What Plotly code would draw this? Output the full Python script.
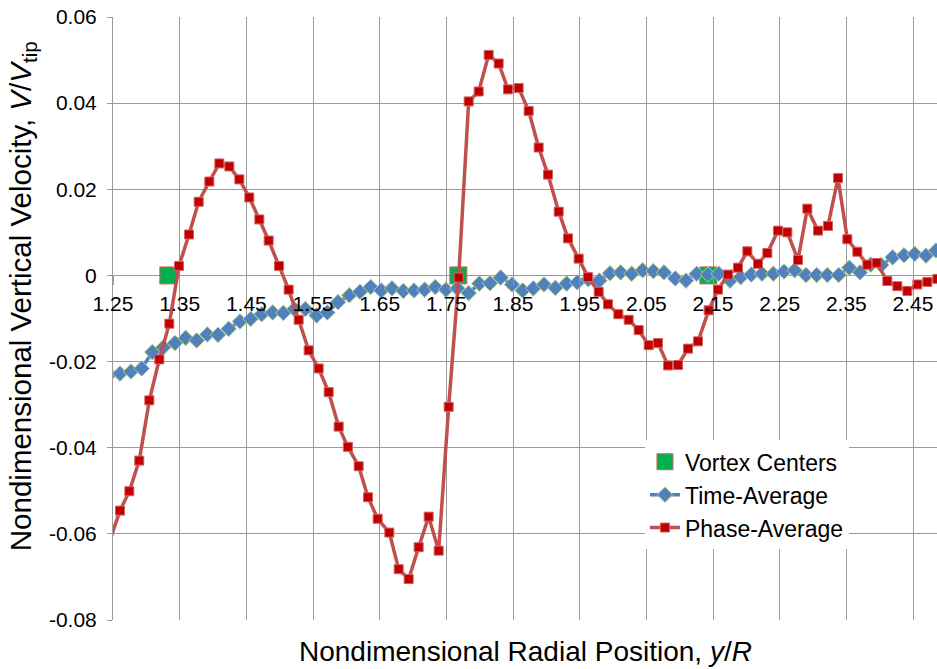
import plotly.graph_objects as go

# ---- data ----
phase_x = [1.240, 1.2605, 1.2745, 1.2894, 1.3045, 1.3195, 1.3345, 1.3490, 1.3640, 1.3785,
           1.3945, 1.4095, 1.4245, 1.4395, 1.4545, 1.4695, 1.4835, 1.4990, 1.5135, 1.5285,
           1.5435, 1.5585, 1.5735, 1.5885, 1.6023, 1.6185, 1.6325, 1.6470, 1.6645, 1.6785,
           1.6935, 1.7085, 1.7235, 1.7385, 1.7535, 1.7685, 1.7835, 1.7985, 1.8135, 1.8285,
           1.8425, 1.8585, 1.8735, 1.8885, 1.9025, 1.9185, 1.9325, 1.9485, 1.9625, 1.9785,
           1.9925, 2.0080, 2.0235, 2.0385, 2.0535, 2.0675, 2.0825, 2.0975, 2.1125, 2.1275,
           2.1435, 2.1575, 2.1725, 2.1875, 2.2015, 2.2175, 2.2315, 2.2475, 2.2615, 2.2775,
           2.2915, 2.3075, 2.3225, 2.3375, 2.3515, 2.3665, 2.3815, 2.3955, 2.4115, 2.4265,
           2.4415, 2.4565, 2.4715, 2.4865]
phase_y = [-0.0640, -0.0546, -0.0501, -0.0430, -0.0290, -0.0195, -0.0112, 0.0022, 0.0095, 0.0171,
           0.0218, 0.0260, 0.0253, 0.0223, 0.0181, 0.0130, 0.0081, 0.0022, -0.0033, -0.0103,
           -0.0174, -0.0216, -0.0271, -0.0351, -0.0398, -0.0443, -0.0515, -0.0565, -0.0597, -0.0682,
           -0.0705, -0.0631, -0.0560, -0.0639, -0.0305, -0.0005, 0.0404, 0.0427, 0.0512, 0.0492,
           0.0432, 0.0435, 0.0382, 0.0297, 0.0234, 0.0148, 0.0086, 0.0039, -0.0004, -0.0038,
           -0.0067, -0.0090, -0.0103, -0.0127, -0.0162, -0.0157, -0.0209, -0.0208, -0.0170, -0.0153,
           -0.0081, -0.0033, 0.0002, 0.0018, 0.0056, 0.0027, 0.0052, 0.0104, 0.0100, 0.0036,
           0.0155, 0.0104, 0.0115, 0.0226, 0.0084, 0.0055, 0.0025, 0.0029, -0.0013, -0.0025,
           -0.0036, -0.0021, -0.0015, -0.0008]

time_x = [1.2445, 1.2605, 1.2770, 1.2930, 1.3090, 1.3255, 1.3430, 1.3590, 1.3755, 1.3915,
          1.4075, 1.4235, 1.4405, 1.4565, 1.4730, 1.4895, 1.5055, 1.5220, 1.5385, 1.5555,
          1.5715, 1.5875, 1.6045, 1.6205, 1.6365, 1.6525, 1.6685, 1.6855, 1.7015, 1.7175,
          1.7335, 1.7495, 1.7665, 1.7835, 1.7995, 1.8155, 1.8315, 1.8485, 1.8645, 1.8805,
          1.8965, 1.9135, 1.9305, 1.9465, 1.9630, 1.9795, 1.9955, 2.0115, 2.0280, 2.0445,
          2.0605, 2.0765, 2.0935, 2.1095, 2.1255, 2.1425, 2.1585, 2.1755, 2.1915, 2.2075,
          2.2235, 2.2405, 2.2565, 2.2725, 2.2895, 2.3055, 2.3215, 2.3385, 2.3545, 2.3705,
          2.3865, 2.4025, 2.4195, 2.4365, 2.4525, 2.4695, 2.4845]
time_y = [-0.0230, -0.0228, -0.0223, -0.0216, -0.0178, -0.0167, -0.0157, -0.0145, -0.0151, -0.0137,
          -0.0138, -0.0124, -0.0107, -0.0101, -0.0090, -0.0086, -0.0087, -0.0078, -0.0078, -0.0093,
          -0.0086, -0.0062, -0.0046, -0.0038, -0.0027, -0.0035, -0.0030, -0.0036, -0.0035, -0.0033,
          -0.0027, -0.0033, -0.0030, -0.0041, -0.0019, -0.0018, -0.0005, -0.0021, -0.0035, -0.0030,
          -0.0021, -0.0029, -0.0019, -0.0016, -0.0009, -0.0012, 0.0005, 0.0007, 0.0004, 0.0012,
          0.0010, 0.0007, -0.0007, -0.0012, 0.0004, 0.0002, 0.0004, -0.0012, -0.0004, 0.0002,
          0.0004, 0.0004, 0.0009, 0.0012, 0.0001, 0.0001, 0.0001, 0.0001, 0.0018, 0.0007,
          0.0025, 0.0024, 0.0042, 0.0047, 0.0050, 0.0046, 0.0058]

vortex_x = [1.333, 1.768, 2.143]
vortex_y = [0.0, 0.0, 0.0]

x_tick_vals = [1.25, 1.35, 1.45, 1.55, 1.65, 1.75, 1.85, 1.95, 2.05, 2.15, 2.25, 2.35, 2.45]
x_tick_text = ["1.25", "1.35", "1.45", "1.55", "1.65", "1.75", "1.85", "1.95", "2.05", "2.15",
               "2.25", "2.35", "2.45"]
y_tick_vals = [-0.08, -0.06, -0.04, -0.02, 0.0, 0.02, 0.04, 0.06]
y_tick_text = ["-0.08", "-0.06", "-0.04", "-0.02", "0", "0.02", "0.04", "0.06"]

FONT = "Liberation Sans, Arial, sans-serif"
GRID = "#9a9a9a"

fig = go.Figure()
fig.add_trace(go.Scatter(
    x=vortex_x, y=vortex_y, mode="markers", name="Vortex Centers",
    marker=dict(symbol="square", size=17, color="#00B050", line=dict(color="#D0605C", width=1)),
))
fig.add_trace(go.Scatter(
    x=time_x, y=time_y, mode="lines+markers", name="Time-Average",
    line=dict(color="#4F81BD", width=3.5),
    marker=dict(symbol="diamond", size=12, color="#4F81BD", line=dict(color="#B5CC85", width=1)),
))
fig.add_trace(go.Scatter(
    x=phase_x, y=phase_y, mode="lines+markers", name="Phase-Average",
    line=dict(color="#C0504D", width=3.5),
    marker=dict(symbol="square", size=9, color="#C00000", line=dict(color="#D46060", width=1)),
))

y0_pos = (0 - (-0.08)) / (0.06 - (-0.08))

fig.update_layout(
    width=937, height=669,
    margin=dict(l=113, r=0, t=17, b=49),
    paper_bgcolor="white", plot_bgcolor="white",
    font=dict(family=FONT, color="black"),
    showlegend=True,
    legend=dict(
        x=0.6456, y=0.298, xanchor="left", yanchor="top",
        bgcolor="white", font=dict(size=23, family=FONT, color="black"),
        itemwidth=30, tracegroupgap=0,
    ),
    xaxis=dict(
        range=[1.25, 2.486], tickmode="array", tickvals=x_tick_vals, ticktext=x_tick_text,
        anchor="free", position=y0_pos, showgrid=True, gridcolor=GRID, gridwidth=1,
        zeroline=False, showline=False, ticks="outside", ticklen=9, tickcolor=GRID, tickwidth=1,
        tickfont=dict(size=21, family=FONT, color="black"),
    ),
    yaxis=dict(
        range=[-0.08, 0.06], tickmode="array", tickvals=y_tick_vals, ticktext=y_tick_text,
        showgrid=True, gridcolor=GRID, gridwidth=1, zeroline=False,
        showline=True, linecolor=GRID, linewidth=1,
        ticks="outside", ticklen=5, tickcolor=GRID,
        tickfont=dict(size=21, family=FONT, color="black"), ticklabelstandoff=6,
    ),
    annotations=[
        dict(text="Nondimensional Radial Position, <i>y</i>/<i>R</i>", xref="paper", yref="paper",
             x=0.5, y=0, xanchor="center", yanchor="middle", yshift=-31, showarrow=False,
             font=dict(size=28, family=FONT, color="black")),
        dict(text="Nondimensional Vertical Velocity, <i>V</i>/<i>V</i><sub>tip</sub>",
             xref="paper", yref="paper", x=0, y=0.537, xanchor="center", yanchor="middle",
             xshift=-91, textangle=-90, showarrow=False,
             font=dict(size=29.5, family=FONT, color="black")),
    ],
)

fig.write_html("out.html")
